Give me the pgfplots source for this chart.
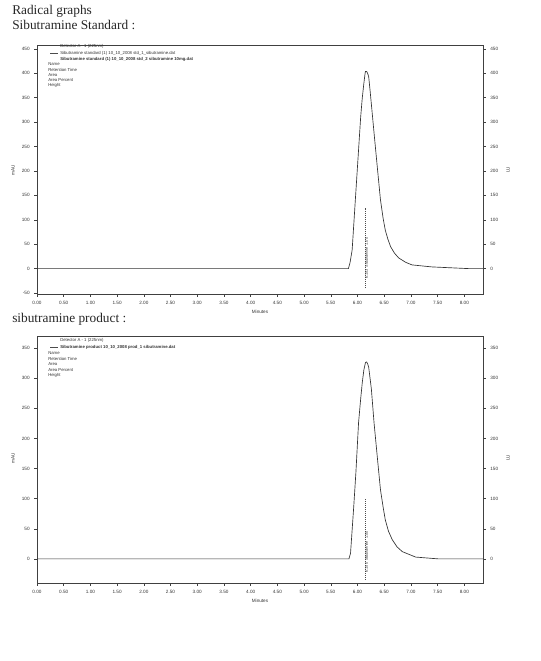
\documentclass[border=0pt]{standalone}
\usepackage{fontspec}
\setmainfont{Liberation Serif}
\newfontfamily\chartfont{Liberation Sans}
\usepackage{pgfplots}
\usepackage{pgfplotstable}
\pgfplotsset{compat=1.18}

% Sibutramine standard trace (minutes, mAU)
\pgfplotstableread{
t     mAU
0.00  0
5.83  0
5.86  12
5.90  38
5.96  141
6.02  243
6.06  311
6.09  350
6.12  380
6.14  398
6.15  404
6.17  404
6.19  400
6.21  393
6.24  360
6.31  278
6.37  209
6.43  141
6.48  103
6.52  79
6.57  60
6.62  45
6.69  32
6.77  22
6.90  13
7.02  7.6
7.39  3.5
8.08  0
8.35  0
}\stdtrace

% Sibutramine product trace
\pgfplotstableread{
t     mAU
0.00  0
5.84  0
5.87  9.5
5.93  87
5.97  143
6.02  226
6.06  266
6.09  293
6.12  314
6.15  326
6.17  327
6.19  324
6.21  318
6.26  282
6.31  226
6.37  170
6.43  115
6.48  86
6.52  65
6.58  46
6.65  32
6.74  20
6.84  12
7.09  3
7.52  0
8.35  0
}\prodtrace

\pgfplotsset{
  chrom/.style={
    scale only axis,
    width=334.5pt,
    xmin=0, xmax=8.35,
    xtick={0,0.5,1,1.5,2,2.5,3,3.5,4,4.5,5,5.5,6,6.5,7,7.5,8},
    axis line style={black!75, line width=0.6pt},
    tick style={black!75, line width=0.4pt},
    major tick length=2pt,
    tick align=outside,
    tick pos=left,
    ticklabel style={font=\chartfont\fontsize{3.5}{4}\selectfont, text=black!80},
    /pgf/number format/assume math mode=true,
    xticklabel style={/pgf/number format/.cd, fixed, fixed zerofill, precision=2},
    yticklabel style={/pgf/number format/.cd, fixed},
    xlabel={Minutes},
    xlabel style={font=\chartfont\fontsize{3.5}{4}\selectfont, text=black!80, yshift=3pt},
  },
  right/.style={
    scale only axis,
    width=334.5pt,
    xmin=0, xmax=8.35,
    axis x line=none,
    axis y line*=right,
    axis line style={black!75, line width=0.6pt},
    tick style={black!75, line width=0.4pt},
    major tick length=2pt,
    tick align=outside,
    ticklabel style={font=\chartfont\fontsize{3.5}{4}\selectfont, text=black!80},
    /pgf/number format/assume math mode=true,
  },
}

\begin{document}
\begin{tikzpicture}
\path[use as bounding box] (0,0) rectangle (405.75pt,495.75pt);

% ---------- upper chart ----------
\begin{axis}[chrom, at={(27.75pt,275.25pt)}, anchor=south west,
    height=186.75pt, ymin=-52, ymax=458,
    ytick={-50,0,50,100,150,200,250,300,350,400,450}]
  \addplot[black!80, line width=0.5pt, line join=round] table[x=t, y=mAU] {\stdtrace};
  \draw[black!70, densely dotted, line width=0.5pt] (axis cs:6.15,-40) -- (axis cs:6.15,125);
  \node[rotate=90, anchor=west, font=\chartfont\fontsize{2.8}{3}\selectfont, text=black!80]
    at (axis cs:6.17,-30) {6.153 \ Sibutramine \ 1.00};
\end{axis}
\begin{axis}[right, at={(27.75pt,275.25pt)}, anchor=south west,
    height=186.75pt, ymin=-52, ymax=458,
    ytick={0,50,100,150,200,250,300,350,400,450}]
\end{axis}

% ---------- lower chart ----------
\begin{axis}[chrom, at={(27.75pt,58.5pt)}, anchor=south west,
    height=185.25pt, ymin=-40, ymax=370,
    ytick={0,50,100,150,200,250,300,350}]
  \addplot[black!80, line width=0.5pt, line join=round] table[x=t, y=mAU] {\prodtrace};
  \draw[black!70, densely dotted, line width=0.5pt] (axis cs:6.15,-35) -- (axis cs:6.15,100);
  \node[rotate=90, anchor=west, font=\chartfont\fontsize{2.8}{3}\selectfont, text=black!80]
    at (axis cs:6.17,-30) {6.150 \ Sibutramine \ 1.00};
\end{axis}
\begin{axis}[right, at={(27.75pt,58.5pt)}, anchor=south west,
    height=185.25pt, ymin=-40, ymax=370,
    ytick={0,50,100,150,200,250,300,350}]
\end{axis}

% ---------- page text, in pixel units (y down) ----------
\begin{scope}[x=0.75pt, y=-0.75pt, shift={(0pt,495.75pt)}]
  \node[anchor=base west, inner sep=0pt, font=\fontsize{10}{12}\selectfont, text=black!85] at (12,15) {Radical graphs};
  \node[anchor=base west, inner sep=0pt, font=\fontsize{10}{12}\selectfont, text=black!85] at (12,30) {Sibutramine Standard :};
  \node[anchor=base west, inner sep=0pt, font=\fontsize{10}{12}\selectfont, text=black!85] at (12,323) {sibutramine product :};

  % axis titles
  \node[rotate=90, font=\chartfont\fontsize{3.5}{4}\selectfont, text=black!80] at (13,170) {mAU};
  \node[rotate=90, font=\chartfont\fontsize{3.5}{4}\selectfont, text=black!80] at (508,170) {LU};
  \node[rotate=90, font=\chartfont\fontsize{3.5}{4}\selectfont, text=black!80] at (13,458) {mAU};
  \node[rotate=90, font=\chartfont\fontsize{3.5}{4}\selectfont, text=black!80] at (508,458) {LU};

  % legend block, upper chart
  \begin{scope}[every node/.style={anchor=base west, inner sep=0pt,
      font=\chartfont\fontsize{3.2}{3.5}\selectfont, text=black!80}]
    \node at (60,48) {Detector A - 1 (225nm)};
    \draw[black!70, line width=0.4pt] (50,53.5) -- (58,53.5);
    \node at (60,55) {Sibutramine standard (1) 10\_10\_2008 std\_1\_sibutramine.dat};
    \node at (60,60.5) {\bfseries Sibutramine standard (1) 10\_10\_2008 std\_2 sibutramine 10mg.dat};
    \node at (48,66) {Name};
    \node at (48,71.5) {Retention Time};
    \node at (48,77) {Area};
    \node at (48,82) {Area Percent};
    \node at (48,87) {Height};
    % legend block, lower chart
    \node at (60,342) {Detector A - 1 (225nm)};
    \draw[black!70, line width=0.4pt] (50,347.5) -- (58,347.5);
    \node at (60,349) {\bfseries Sibutramine product 10\_10\_2008 prod\_1 sibutramine.dat};
    \node at (48,355) {Name};
    \node at (48,360.5) {Retention Time};
    \node at (48,366) {Area};
    \node at (48,371.5) {Area Percent};
    \node at (48,377) {Height};
  \end{scope}
\end{scope}
\end{tikzpicture}
\end{document}
